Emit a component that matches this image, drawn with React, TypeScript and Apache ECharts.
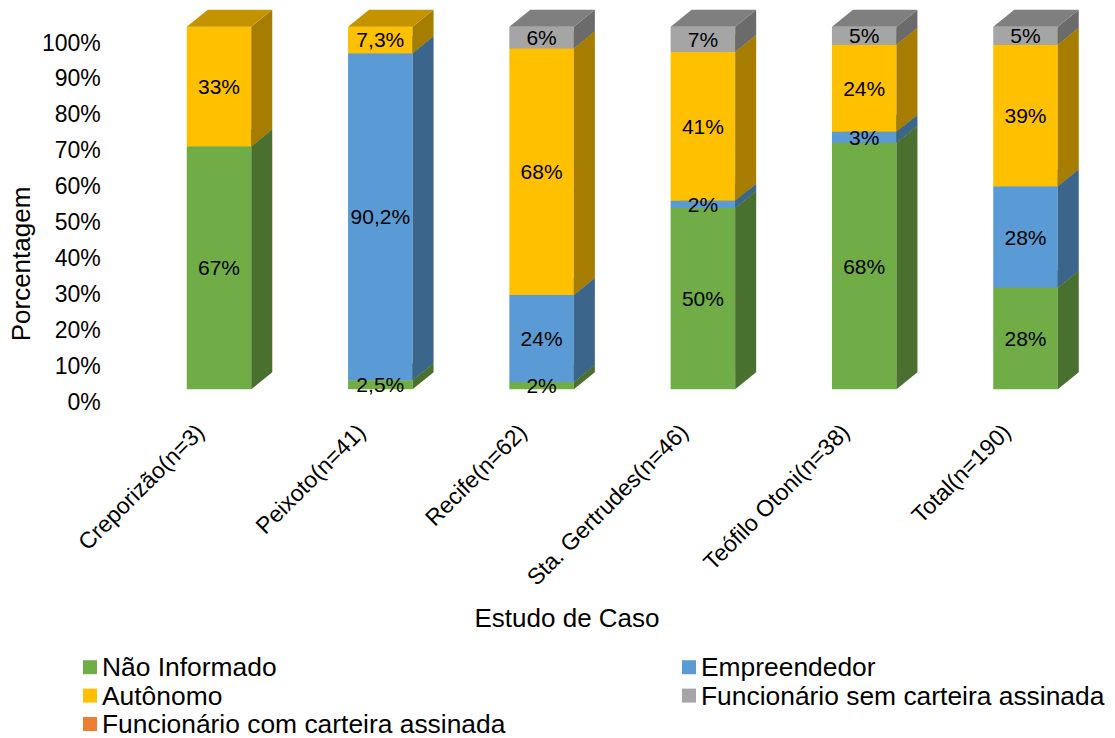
import React, { useEffect, useRef } from "react";
import * as echarts from "echarts";

const categories = [
  "Creporizão(n=3)",
  "Peixoto(n=41)",
  "Recife(n=62)",
  "Sta. Gertrudes(n=46)",
  "Teófilo Otoni(n=38)",
  "Total(n=190)",
];
const naoInformado = [67, 2.5, 2, 50, 68, 28];
const empreendedor = [0, 90.2, 24, 2, 3, 28];
const autonomo = [33, 7.3, 68, 41, 24, 39];
const semCarteira = [0, 0, 6, 7, 5, 5];
const comCarteira = [0, 0, 0, 0, 0, 0];
const yTicks = [0, 10, 20, 30, 40, 50, 60, 70, 80, 90, 100];

const seriesDefs = [
  { name: "Não Informado", values: naoInformado, color: "#70AD47" },
  { name: "Empreendedor", values: empreendedor, color: "#5B9BD5" },
  { name: "Autônomo", values: autonomo, color: "#FFC000" },
  { name: "Funcionário sem carteira assinada", values: semCarteira, color: "#A5A5A5" },
  { name: "Funcionário com carteira assinada", values: comCarteira, color: "#ED7D31" },
];

const FONT = '"Liberation Sans", Arial, sans-serif';
const DX = 21;
const DY = -17;

function shade(hex: string, f: number) {
  const n = parseInt(hex.slice(1), 16);
  const r = Math.round(((n >> 16) & 255) * f);
  const g = Math.round(((n >> 8) & 255) * f);
  const b = Math.round((n & 255) * f);
  return `rgb(${r},${g},${b})`;
}

function fmt(v: number) {
  return String(v).replace(".", ",") + "%";
}

export default function App() {
  const ref = useRef<HTMLDivElement>(null);
  useEffect(() => {
    document.body.style.margin = "0";
    const chart = echarts.init(ref.current!, null, { renderer: "svg" });
    const cum = categories.map(() => 0);
    const series = seriesDefs.map((s) => {
      const data = s.values.map((v, i) => {
        const base = cum[i];
        cum[i] += v;
        return [i, base, base + v, v];
      });
      const front = s.color;
      const side = shade(s.color, 0.65);
      const top = shade(s.color, 0.77);
      return {
        type: "custom",
        name: s.name,
        xAxisIndex: 1,
        yAxisIndex: 1,
        itemStyle: { color: s.color },
        encode: { x: 0, y: [1, 2] },
        data,
        renderItem: (params: any, api: any) => {
          const i = api.value(0);
          const b = api.value(1);
          const t = api.value(2);
          const v = api.value(3);
          if (!v) return null;
          const pb = api.coord([i, b]);
          const pt = api.coord([i, t]);
          const w = api.size([1, 0])[0] * 0.4;
          const x0 = pb[0] - w / 2;
          const x1 = pb[0] + w / 2;
          const yb = pb[1];
          const yt = pt[1];
          return {
            type: "group",
            children: [
              { type: "rect", shape: { x: x0, y: yt, width: w, height: yb - yt }, style: { fill: front } },
              {
                type: "polygon",
                shape: { points: [[x1, yb], [x1 + DX, yb + DY], [x1 + DX, yt + DY], [x1, yt]] },
                style: { fill: side },
              },
              {
                type: "polygon",
                shape: { points: [[x0, yt], [x1, yt], [x1 + DX, yt + DY], [x0 + DX, yt + DY]] },
                style: { fill: top },
              },
              {
                type: "text",
                z2: 100,
                x: pb[0],
                y: (yb + yt) / 2,
                style: {
                  text: fmt(v),
                  fill: "#000",
                  font: `21px ${FONT}`,
                  align: "center",
                  verticalAlign: "middle",
                },
              },
            ],
          };
        },
      };
    });

    const legendCommon = {
      orient: "vertical",
      top: 654,
      height: 90,
      padding: 0,
      itemWidth: 14,
      itemHeight: 14,
      itemGap: 2,
      icon: "rect",
      selectedMode: false,
      textStyle: { fontSize: 26.4, lineHeight: 26.4, color: "#000", fontFamily: FONT },
    };

    chart.setOption({
      animation: false,
      backgroundColor: "#fff",
      grid: [
        { left: 119.35, right: 27.85, top: 42.5, bottom: 336 },
        { left: 138.35, right: 8.85, top: 26.7, bottom: 348.7 },
      ],
      xAxis: [
        {
          type: "category",
          gridIndex: 0,
          data: categories,
          axisLine: { show: false },
          axisTick: { show: false },
          axisLabel: {
            rotate: 45,
            margin: 26,
            interval: 0,
            fontSize: 23,
            color: "#000",
            fontFamily: FONT,
          },
        },
        {
          type: "category",
          gridIndex: 1,
          data: categories,
          show: false,
        },
      ],
      yAxis: [
        {
          type: "value",
          gridIndex: 0,
          min: yTicks[0],
          max: yTicks[yTicks.length - 1],
          interval: yTicks[1] - yTicks[0],
          axisLine: { show: false },
          axisTick: { show: false },
          splitLine: { show: false },
          axisLabel: {
            formatter: "{value}%",
            margin: 18.6,
            fontSize: 23,
            color: "#000",
            fontFamily: FONT,
          },
        },
        { type: "value", gridIndex: 1, min: 0, max: 100, show: false },
      ],
      legend: [
        { ...legendCommon, left: 83, data: [seriesDefs[0].name, seriesDefs[2].name, seriesDefs[4].name] },
        { ...legendCommon, left: 682, data: [seriesDefs[1].name, seriesDefs[3].name] },
      ],
      graphic: [
        {
          type: "text",
          x: 21,
          y: 264,
          rotation: Math.PI / 2,
          style: {
            text: "Porcentagem",
            fill: "#000",
            font: `26px ${FONT}`,
            align: "center",
            verticalAlign: "middle",
          },
        },
        {
          type: "text",
          x: 567,
          y: 617.5,
          style: {
            text: "Estudo de Caso",
            fill: "#000",
            font: `26px ${FONT}`,
            align: "center",
            verticalAlign: "middle",
          },
        },
      ],
      series,
    });
    return () => chart.dispose();
  }, []);
  return <div ref={ref} style={{ width: 1115, height: 738 }} />;
}
